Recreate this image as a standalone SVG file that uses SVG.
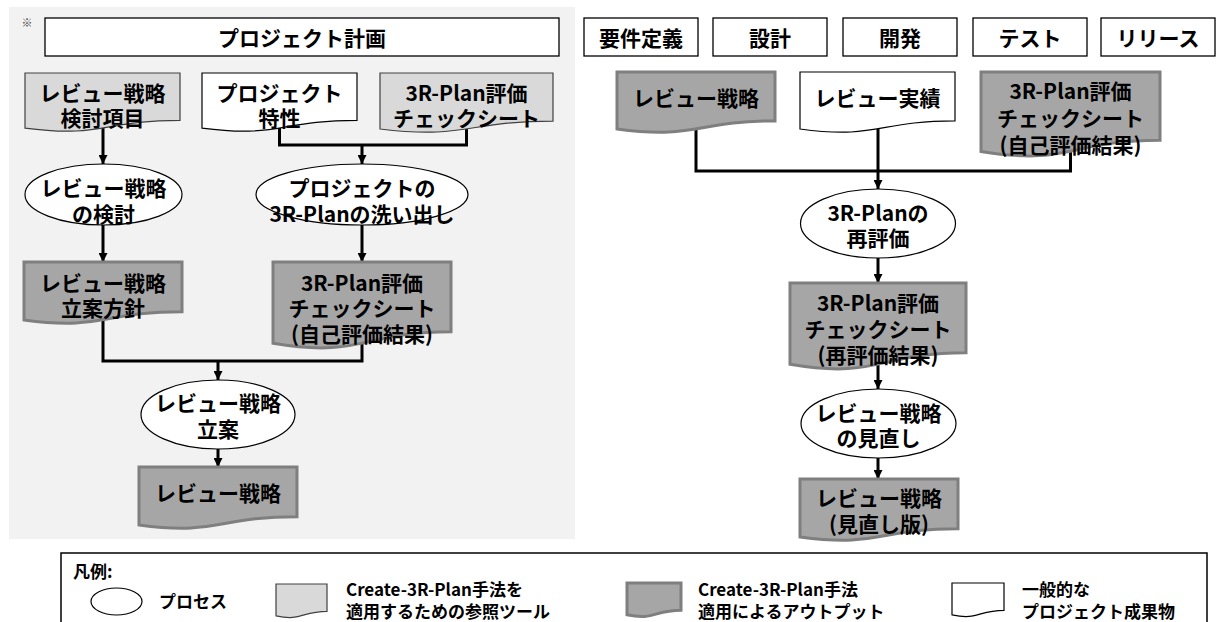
<svg xmlns="http://www.w3.org/2000/svg" width="1219" height="622" viewBox="0 0 1219 622">
<style>
text{font-family:"Noto Sans CJK JP","Noto Sans",sans-serif;font-weight:bold;fill:#000;text-anchor:middle;dominant-baseline:central;font-size:21px}
.lg{font-size:17px;text-anchor:start}
.box{fill:#fff;stroke:#000;stroke-width:1.3}
.proc{fill:#fff;stroke:#000;stroke-width:1.2}
.ref{fill:#d9d9d9;stroke:#404040;stroke-width:1.2}
.out{fill:#a6a6a6;stroke:#7f7f7f;stroke-width:3}
.gen{fill:#fff;stroke:#000;stroke-width:1.2}
.con{fill:none;stroke:#000;stroke-width:3}
.arr{fill:none;stroke:#000;stroke-width:3;marker-end:url(#ah)}
</style>
<defs>
<marker id="ah" viewBox="0 0 10 10" refX="10" refY="5" markerWidth="10" markerHeight="9" markerUnits="userSpaceOnUse" orient="auto">
<path d="M0,0 L10,5 L0,10 Z" fill="#000"/>
</marker>
</defs>
<rect x="9" y="7" width="566" height="532" fill="#f2f2f2"/>
<text x="27" y="22" style="font-size:11px;font-weight:normal;fill:#444">※</text>

<g id="plan"><rect class="box" x="45" y="18" width="514" height="38"/><text x="302" y="37">プロジェクト計画</text></g>
<g id="phase-req"><rect class="box" x="584" y="18" width="114" height="38"/><text x="641" y="37">要件定義</text></g>
<g id="phase-design"><rect class="box" x="713" y="18" width="114" height="38"/><text x="770" y="37">設計</text></g>
<g id="phase-dev"><rect class="box" x="843" y="18" width="114" height="38"/><text x="900" y="37">開発</text></g>
<g id="phase-test"><rect class="box" x="973" y="18" width="114" height="38"/><text x="1030" y="37">テスト</text></g>
<g id="phase-release"><rect class="box" x="1101" y="18" width="114" height="38"/><text x="1158" y="37">リリース</text></g>

<g id="connectors">
<path class="arr" d="M103,128 V164"/>
<path class="con" d="M279.5,128 V145 H466.5 V129"/>
<path class="arr" d="M362,145 V164"/>
<path class="arr" d="M103,225 V262"/>
<path class="arr" d="M362,225 V262"/>
<path class="con" d="M103,320 V361 H362 V343"/>
<path class="arr" d="M218,361 V380"/>
<path class="arr" d="M218,449 V467"/>
<path class="con" d="M696,129 V171 H1070.5 V151"/>
<path class="arr" d="M878,128 V189"/>
<path class="arr" d="M878,258 V283"/>
<path class="arr" d="M878,364 V389"/>
<path class="arr" d="M878,458 V479"/>
</g>

<g id="doc-review-items"><path class="ref" d="M25,73 H180 V120.3 C102.5,120.3 102.5,138.3 25,128.1 Z"/><text><tspan x="102.5" y="92">レビュー戦略</tspan><tspan x="102.5" y="117">検討項目</tspan></text></g>
<g id="doc-project-char"><path class="gen" d="M202,73 H357 V120.3 C279.5,120.3 279.5,138.3 202,128.1 Z"/><text><tspan x="279.5" y="92">プロジェクト</tspan><tspan x="279.5" y="117">特性</tspan></text></g>
<g id="doc-checksheet"><path class="ref" d="M380,73 H553 V121.1 C466.5,121.1 466.5,139.4 380,129 Z"/><text><tspan x="466.5" y="92">3R-Plan評価</tspan><tspan x="466.5" y="117">チェックシート</tspan></text></g>

<g id="proc-review-study"><ellipse class="proc" cx="103.5" cy="194.5" rx="78.5" ry="30.5"/><text><tspan x="103.5" y="187">レビュー戦略</tspan><tspan x="103.5" y="213">の検討</tspan></text></g>
<g id="proc-3rplan-list"><ellipse class="proc" cx="362" cy="194.5" rx="106" ry="30.5"/><text><tspan x="362" y="187">プロジェクトの</tspan><tspan x="362" y="213">3R-Planの洗い出し</tspan></text></g>

<g id="doc-policy"><path class="out" d="M24,262 H182 V311.7 C103,311.7 103,330.6 24,319.9 Z"/><text><tspan x="103" y="282">レビュー戦略</tspan><tspan x="103" y="307">立案方針</tspan></text></g>
<g id="doc-selfeval"><path class="out" d="M273,262 H451 V331.8 C362,331.8 362,358.3 273,343.3 Z"/><text><tspan x="362" y="282">3R-Plan評価</tspan><tspan x="362" y="307">チェックシート</tspan><tspan x="362" y="333">(自己評価結果)</tspan></text></g>

<g id="proc-plan"><ellipse class="proc" cx="218" cy="414.5" rx="77" ry="34.5"/><text><tspan x="218" y="402">レビュー戦略</tspan><tspan x="218" y="428">立案</tspan></text></g>
<g id="doc-strategy"><path class="out" d="M139,467 H297 V516.7 C218,516.7 218,535.6 139,524.9 Z"/><text x="218" y="492">レビュー戦略</text></g>

<g id="doc-strategy-r"><path class="out" d="M617,72 H775 V120.9 C696,120.9 696,139.5 617,129 Z"/><text x="696" y="97">レビュー戦略</text></g>
<g id="doc-results"><path class="gen" d="M800,72 H955 V120.9 C877.5,120.9 877.5,139.5 800,129 Z"/><text x="877.5" y="97">レビュー実績</text></g>
<g id="doc-selfeval-r"><path class="out" d="M981,72 H1160 V140.2 C1070.5,140.2 1070.5,166.1 981,151.4 Z"/><text><tspan x="1070.5" y="90">3R-Plan評価</tspan><tspan x="1070.5" y="117">チェックシート</tspan><tspan x="1070.5" y="144">(自己評価結果)</tspan></text></g>

<g id="proc-reeval"><ellipse class="proc" cx="878" cy="223.5" rx="77.5" ry="34.5"/><text><tspan x="878" y="212">3R-Planの</tspan><tspan x="878" y="237">再評価</tspan></text></g>
<g id="doc-reeval"><path class="out" d="M790,283 H966 V352.8 C878,352.8 878,379.3 790,364.3 Z"/><text><tspan x="878" y="302">3R-Plan評価</tspan><tspan x="878" y="328">チェックシート</tspan><tspan x="878" y="354">(再評価結果)</tspan></text></g>
<g id="proc-revise"><ellipse class="proc" cx="878.5" cy="423.5" rx="77.5" ry="34.5"/><text><tspan x="878.5" y="412">レビュー戦略</tspan><tspan x="878.5" y="437">の見直し</tspan></text></g>
<g id="doc-revised"><path class="out" d="M800,479 H958 V528.7 C879,528.7 879,547.6 800,536.9 Z"/><text><tspan x="879" y="497">レビュー戦略</tspan><tspan x="879" y="523">(見直し版)</tspan></text></g>

<g id="legend">
<rect x="61" y="553" width="1146" height="90" fill="#fff" stroke="#000" stroke-width="1.5"/>
<text class="lg" x="73" y="570">凡例:</text>
<ellipse class="proc" cx="116.5" cy="601.5" rx="25.5" ry="13.5"/>
<text class="lg" x="159" y="600">プロセス</text>
<path class="ref" d="M276,584 H327 V611.3 C301.5,611.3 301.5,621.6 276,615.8 Z"/>
<text class="lg"><tspan x="346" y="588">Create-3R-Plan手法を</tspan><tspan x="346" y="610">適用するための参照ツール</tspan></text>
<path class="out" d="M627,583 H681 V610.3 C654,610.3 654,620.6 627,614.8 Z"/>
<text class="lg"><tspan x="698" y="588">Create-3R-Plan手法</tspan><tspan x="698" y="610">適用によるアウトプット</tspan></text>
<path class="gen" d="M952,583 H1004 V610.3 C978,610.3 978,620.6 952,614.8 Z"/>
<text class="lg"><tspan x="1022" y="588">一般的な</tspan><tspan x="1022" y="610">プロジェクト成果物</tspan></text>
</g>
</svg>
